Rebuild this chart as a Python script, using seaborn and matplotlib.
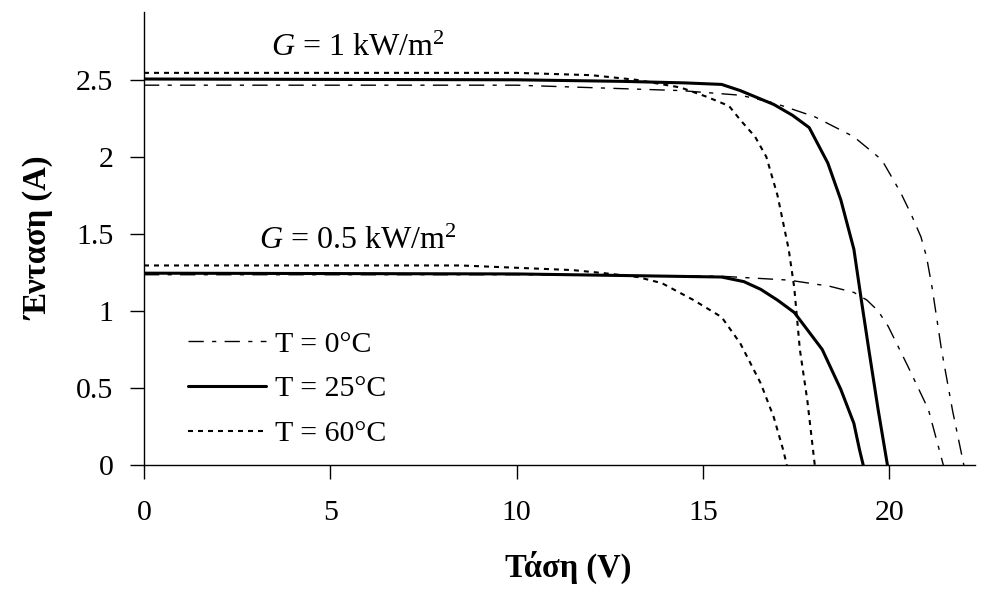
import numpy as np
import pandas as pd
import matplotlib
matplotlib.use('Agg')
import matplotlib.pyplot as plt
import seaborn as sns

# Καμπύλες I-V (τιμές από το διάγραμμα)
# G = 1 kW/m2
v_0_g1 = [0, 10, 14.4, 16.0, 16.9, 18.0, 19.05, 19.8, 20.3, 20.6, 20.85, 21.0, 21.15, 21.4, 21.7, 22.0]
i_0_g1 = [2.465, 2.465, 2.43, 2.40, 2.35, 2.26, 2.13, 1.98, 1.77, 1.62, 1.48, 1.35, 1.15, 0.75, 0.35, 0.0]
v_25_g1 = [0, 10, 12.8, 14.5, 15.5, 16.0, 16.4, 16.9, 17.4, 17.85, 18.35, 18.7, 19.05, 19.25, 19.45, 19.7, 19.95]
i_25_g1 = [2.505, 2.50, 2.49, 2.48, 2.47, 2.43, 2.39, 2.34, 2.27, 2.19, 1.96, 1.72, 1.40, 1.07, 0.75, 0.36, 0.0]
v_60_g1 = [0, 10, 12, 13.2, 14.4, 15.1, 15.7, 16.0, 16.4, 16.7, 17.0, 17.3, 17.45, 17.6, 17.8, 18.0]
i_60_g1 = [2.545, 2.545, 2.53, 2.50, 2.45, 2.39, 2.33, 2.24, 2.13, 2.00, 1.75, 1.40, 1.15, 0.75, 0.42, 0.0]

# G = 0.5 kW/m2
v_0_g05 = [0, 10, 15.5, 17.3, 18.4, 19.05, 19.4, 19.7, 19.97, 20.5, 21.05, 21.45]
i_0_g05 = [1.235, 1.235, 1.225, 1.20, 1.16, 1.12, 1.07, 1.00, 0.90, 0.64, 0.36, 0.0]
v_25_g05 = [0, 10, 12.8, 15.5, 16.1, 16.55, 17.0, 17.45, 18.2, 18.7, 19.05, 19.2, 19.3]
i_25_g05 = [1.245, 1.24, 1.23, 1.22, 1.19, 1.14, 1.07, 0.99, 0.75, 0.49, 0.27, 0.10, 0.0]
v_60_g05 = [0, 8.5, 10, 11.5, 12.35, 13.25, 13.9, 14.75, 15.5, 16.0, 16.55, 16.9, 17.15, 17.25]
i_60_g05 = [1.295, 1.295, 1.28, 1.265, 1.245, 1.22, 1.18, 1.07, 0.96, 0.79, 0.53, 0.31, 0.10, 0.0]

legend_labels = ['T = 0°C', 'T = 25°C', 'T = 60°C']
x_ticks = [0, 5, 10, 15, 20]
y_ticks = [0, 0.5, 1, 1.5, 2, 2.5]
y_tick_labels = ['0', '0.5', '1', '1.5', '2', '2.5']

sns.set_style('ticks')
plt.rcParams['font.family'] = ['Liberation Serif', 'DejaVu Serif']
plt.rcParams['mathtext.fontset'] = 'custom'
plt.rcParams['mathtext.rm'] = 'Liberation Serif'
plt.rcParams['mathtext.it'] = 'Liberation Serif:italic'
plt.rcParams['text.color'] = 'black'
plt.rcParams['axes.labelcolor'] = 'black'

fig = plt.figure(figsize=(9.88, 5.9), dpi=100)
ax = fig.add_axes([144 / 988, 125 / 590, 831 / 988, 453 / 590])

styles = {
    0: dict(linestyle=(0, (11, 6, 3, 6)), linewidth=1.0),
    25: dict(linestyle='-', linewidth=2.2),
    60: dict(linestyle=(0, (2.4, 2.4)), linewidth=1.5),
}

curves = [
    (v_0_g1, i_0_g1, 0, legend_labels[0]),
    (v_25_g1, i_25_g1, 25, legend_labels[1]),
    (v_60_g1, i_60_g1, 60, legend_labels[2]),
    (v_0_g05, i_0_g05, 0, None),
    (v_25_g05, i_25_g05, 25, None),
    (v_60_g05, i_60_g05, 60, None),
]

for v, i, t, lab in curves:
    sns.lineplot(x=v, y=i, ax=ax, color='black', estimator=None, sort=False,
                 label=lab, legend=False, **styles[t])

ax.set_xlim(0, 22.3)
ax.set_ylim(0, 2.94)
ax.set_xticks(x_ticks)
ax.set_xticklabels([str(t) for t in x_ticks])
ax.set_yticks(y_ticks)
ax.set_yticklabels(y_tick_labels)
ax.tick_params(axis='both', direction='out', length=10, width=1, color='black',
               labelsize=21.5, labelcolor='black')
ax.tick_params(axis='x', pad=15)
ax.tick_params(axis='y', pad=12)
sns.despine(ax=ax)
for s in ['left', 'bottom']:
    ax.spines[s].set_color('black')
    ax.spines[s].set_linewidth(1)

ax.set_xlabel('Τάση (V)', fontsize=23.5, fontweight='bold', va='baseline')
ax.set_ylabel('Ένταση (A)', fontsize=23.5, fontweight='bold', va='baseline')
ax.xaxis.set_label_coords(0.511, -0.247)
ax.yaxis.set_label_coords(-0.117, 0.5)

ax.annotate(r'$G$ = 1 kW/m$^2$', xy=(358 / 988, 1 - 56 / 590), xycoords='figure fraction',
            ha='center', va='baseline', fontsize=23)
ax.annotate(r'$G$ = 0.5 kW/m$^2$', xy=(358 / 988, 1 - 249 / 590), xycoords='figure fraction',
            ha='center', va='baseline', fontsize=23)

ax.legend(loc='lower left', bbox_to_anchor=(0.0385, 0.013), borderaxespad=0,
          frameon=False, fontsize=21.5, handlelength=2.6, handletextpad=0.3,
          labelspacing=0.6)

fig.savefig('out.png', dpi=100, facecolor='white')
